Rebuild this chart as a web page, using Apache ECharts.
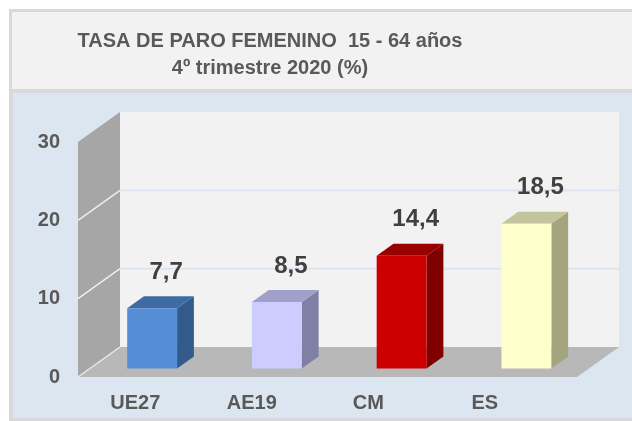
<!DOCTYPE html>
<html lang="es">
<head>
<meta charset="UTF-8">
<title>Tasa de paro femenino</title>
<script src="https://cdn.jsdelivr.net/npm/echarts@6/dist/echarts.min.js"></script>
<style>
  html, body { margin: 0; padding: 0; background: #fff; }
  #chart { width: 632px; height: 421px; }
</style>
</head>
<body>
<div id="chart"></div>
<script>
// data
var categories = ['UE27', 'AE19', 'CM', 'ES'];
var values = [7.7, 8.5, 14.4, 18.5];
var yMin = 0, yMax = 30, yStep = 10;
var titleLines = ['TASA DE PARO FEMENINO  15 - 64 años', '4º trimestre 2020 (%)'];

// styles for each bar: front, side, top
var barFront = ['#558ed5', '#ccccff', '#cc0000', '#ffffcc'];
var barSide  = ['#325a8b', '#8080a6', '#800000', '#a4a47f'];
var barTop   = ['#3f6ba5', '#a0a0cb', '#990000', '#c3c39d'];

// fake 3d depth of the box
var DX = 42, DY = -30;
var F_FRONT = 0.28, F_BACK = 0.68;
var FONT = '"Liberation Sans", Arial, sans-serif';

var chart = echarts.init(document.getElementById('chart'));

function fmt(v) { return v.toFixed(1).replace('.', ','); }

function renderWalls(params, api) {
    var cs = params.coordSys;
    var x0 = cs.x, x1 = cs.x + cs.width;
    var y0 = api.coord([0, yMin])[1];
    var yT = api.coord([0, yMax])[1];
    var children = [
        { type: 'polygon', shape: { points: [[x0 + DX, yT + DY], [x1 + DX, yT + DY], [x1 + DX, y0 + DY], [x0 + DX, y0 + DY]] },
          style: { fill: '#f2f2f2' } },
        { type: 'polygon', shape: { points: [[x0, yT], [x0 + DX, yT + DY], [x0 + DX, y0 + DY], [x0, y0]] },
          style: { fill: '#a6a6a6' } },
        { type: 'polygon', shape: { points: [[x0, y0], [x1, y0], [x1 + DX, y0 + DY], [x0 + DX, y0 + DY]] },
          style: { fill: '#b8b8b8' } },
        { type: 'line', shape: { x1: x0, y1: y0, x2: x0 + DX, y2: y0 + DY },
          style: { stroke: '#e8e8e8', lineWidth: 1.5 } }
    ];
    for (var t = yMin + yStep; t < yMax; t += yStep) {
        var yy = api.coord([0, t])[1];
        children.push({ type: 'line', shape: { x1: x0, y1: yy, x2: x0 + DX, y2: yy + DY },
            style: { stroke: '#eeeeee', lineWidth: 1.5 } });
        children.push({ type: 'line', shape: { x1: x0 + DX, y1: yy + DY, x2: x1 + DX, y2: yy + DY },
            style: { stroke: '#dce6f1', lineWidth: 2 } });
    }
    return { type: 'group', children: children };
}

function renderBar(params, api) {
    var i = api.value(0), v = api.value(1);
    var base = api.coord([i, yMin]);
    var top = api.coord([i, v]);
    var band = api.size([1, 0])[0];
    var w = band * 0.4;
    var fx = DX * F_FRONT, fy = DY * F_FRONT;
    var bdx = DX * (F_BACK - F_FRONT), bdy = DY * (F_BACK - F_FRONT);
    var xl = base[0] + fx - w / 2, xr = xl + w;
    var yb = base[1] + fy, yt = top[1] + fy;
    return {
        type: 'group',
        children: [
            { type: 'polygon', shape: { points: [[xr, yt], [xr + bdx, yt + bdy], [xr + bdx, yb + bdy], [xr, yb]] },
              style: { fill: barSide[i] } },
            { type: 'polygon', shape: { points: [[xl, yt], [xr, yt], [xr + bdx, yt + bdy], [xl + bdx, yt + bdy]] },
              style: { fill: barTop[i] } },
            { type: 'rect', shape: { x: xl, y: yt, width: w, height: yb - yt },
              style: { fill: barFront[i] } },
            { type: 'text', x: base[0] + fx + 14, y: yt + bdy - 24,
              style: { text: fmt(v), fill: '#404040', font: 'bold 24px ' + FONT, align: 'center', verticalAlign: 'middle' } }
        ]
    };
}

var option = {
    animation: false,
    graphic: [
        { type: 'rect', z: -10, shape: { x: 9, y: 9, width: 623, height: 412 }, style: { fill: '#d9d9d9' } },
        { type: 'rect', z: -9, shape: { x: 12, y: 12, width: 620, height: 77 }, style: { fill: '#f2f2f2' } },
        { type: 'rect', z: -9, shape: { x: 13, y: 93, width: 619, height: 325 }, style: { fill: '#dce6f1' } },
        { type: 'text', z: 5, x: 270, y: 55,
          style: { text: titleLines.join('\n'), fill: '#595959', font: 'bold 20px ' + FONT,
                   lineHeight: 27, align: 'center', verticalAlign: 'middle' } }
    ],
    grid: [
        { left: 78, top: 142, width: 499, height: 235 },
        { left: 77, top: 142, width: 466, height: 235 }
    ],
    xAxis: [
        { type: 'category', gridIndex: 0, data: categories,
          axisLine: { show: false }, axisTick: { show: false }, axisLabel: { show: false } },
        { type: 'category', gridIndex: 1, data: categories,
          axisLine: { show: false }, axisTick: { show: false },
          axisLabel: { margin: 16, color: '#595959', fontWeight: 'bold', fontSize: 20, fontFamily: FONT } }
    ],
    yAxis: [
        { type: 'value', gridIndex: 0, min: yMin, max: yMax, interval: yStep,
          axisLine: { show: false }, axisTick: { show: false }, splitLine: { show: false },
          axisLabel: { margin: 18, color: '#595959', fontWeight: 'bold', fontSize: 20, fontFamily: FONT } },
        { type: 'value', gridIndex: 1, min: yMin, max: yMax, interval: yStep, show: false }
    ],
    series: [
        { type: 'custom', xAxisIndex: 0, yAxisIndex: 0, z: 1, silent: true,
          renderItem: renderWalls, data: [[0, 0]] },
        { type: 'custom', xAxisIndex: 0, yAxisIndex: 0, z: 3,
          renderItem: renderBar, data: values.map(function (v, i) { return [i, v]; }) }
    ]
};
chart.setOption(option);
</script>
</body>
</html>
